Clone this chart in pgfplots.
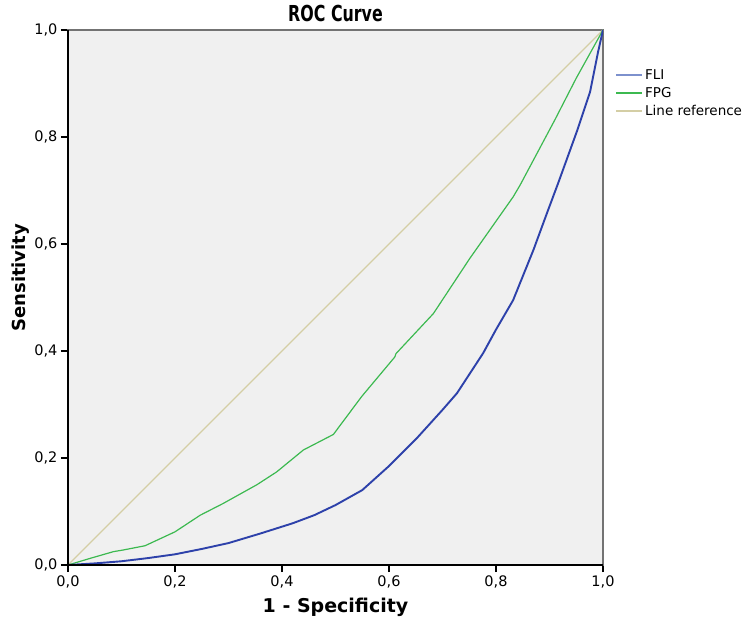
\documentclass[border=0pt]{standalone}
\usepackage{pgfplots}
\pgfplotsset{compat=1.18}
\usepackage{fontspec}
\setmainfont{DejaVu Sans}
\definecolor{bgc}{RGB}{240,240,240}
\definecolor{flic}{RGB}{45,65,170}
\definecolor{flileg}{RGB}{125,145,205}
\definecolor{fpgc}{RGB}{60,185,80}
\definecolor{refc}{RGB}{212,206,165}
\begin{document}
\begin{tikzpicture}[x=1pt,y=1pt]
\useasboundingbox (-68,-65) rectangle (682,565);
\begin{axis}[
  at={(0,0)}, anchor=south west, name=ax,
  scale only axis, width=535pt, height=535pt,
  xmin=0, xmax=1, ymin=0, ymax=1,
  clip mode=individual,
  axis background/.style={fill=bgc},
  axis line style={draw=black!55, line width=1.2pt},
  tick align=outside, xtick pos=bottom, ytick pos=left,
  major tick length=7pt,
  every tick/.style={black, line width=1.2pt},
  xtick={0,0.2,0.4,0.6,0.8,1}, ytick={0,0.2,0.4,0.6,0.8,1},
  tick label style={font=\fontsize{14.5}{17}\selectfont},
  /pgf/number format/.cd, use comma, fixed, fixed zerofill, precision=1, assume math mode=true,
  /pgfplots/.cd,
  title={\scalebox{0.72}[1]{ROC Curve}},
  title style={font=\bfseries\fontsize{22}{26}\selectfont, yshift=-1pt},
  xlabel={1 - Specificity},
  ylabel={Sensitivity},
  every axis x label/.style={at={(axis description cs:0.5,0)}, anchor=base, yshift=-47pt, font=\bfseries\fontsize{19}{22}\selectfont},
  every axis y label/.style={at={(axis description cs:0,0.537)}, anchor=base, rotate=90, yshift=42pt, font=\bfseries\fontsize{18}{22}\selectfont},
  legend style={at={(axis description cs:1.022,0.93)}, anchor=north west, draw=none, fill=none,
    font=\fontsize{13.5}{16}\selectfont, row sep=2.5pt, inner sep=0pt},
  legend cell align=left,
  legend image code/.code={\draw[#1, line width=2.2pt] (0pt,0pt) -- (26pt,0pt);},
]
\addplot[refc, line width=1.1pt, forget plot] coordinates {(0,0) (1,1)};
\addplot[fpgc, line width=1.2pt, forget plot] coordinates {
(0,0) (0.04,0.012) (0.085,0.025) (0.103,0.028) (0.144,0.036) (0.2,0.062)
(0.247,0.093) (0.29,0.115) (0.353,0.15) (0.39,0.174) (0.44,0.215) (0.496,0.244)
(0.549,0.315) (0.611,0.389) (0.613,0.395) (0.683,0.47) (0.751,0.573) (0.832,0.688)
(0.845,0.710) (0.910,0.832) (0.95,0.91) (1,1)};
\addplot[flic, line width=1.9pt, forget plot] coordinates {
(0,0) (0.05,0.003) (0.1,0.007) (0.15,0.013) (0.2,0.020) (0.25,0.03) (0.3,0.041)
(0.36,0.059) (0.42,0.078) (0.46,0.093) (0.5,0.112) (0.55,0.14) (0.6,0.185)
(0.652,0.237) (0.7,0.29) (0.727,0.321) (0.776,0.396) (0.8,0.44) (0.832,0.495)
(0.87,0.589) (0.895,0.657) (0.917,0.716) (0.951,0.81) (0.976,0.885) (0.991,0.96) (1,1)};
\addlegendimage{flileg}
\addlegendentry{FLI}
\addlegendimage{fpgc}
\addlegendentry{FPG}
\addlegendimage{refc}
\addlegendentry{Line reference}
\end{axis}
\draw[black, line width=1.3pt] (ax.north west) -- (ax.south west) -- (ax.south east);
\end{tikzpicture}
\end{document}
